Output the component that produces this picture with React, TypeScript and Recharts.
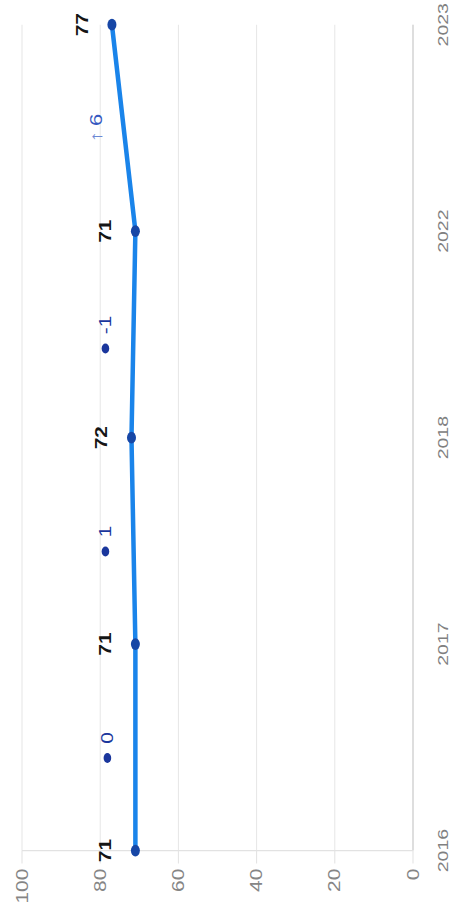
import React from "react";
import {
  ComposedChart,
  Line,
  XAxis,
  YAxis,
  CartesianGrid,
  LabelList,
} from "recharts";

// values
const years = ["2016", "2017", "2018", "2022", "2023"];
const scores = [71, 71, 72, 71, 77];
const changes = [0, 1, -1, 6];
const flagged = [false, false, false, true];
const yTicks = [0, 20, 40, 60, 80, 100];

type Row = {
  pos: number;
  score?: number;
  mid?: number;
  change?: number;
  flagged?: boolean;
};

const rows: Row[] = [];
years.forEach((yr, i) => {
  rows.push({ pos: i * 2, score: scores[i] });
  if (i < changes.length) {
    rows.push({
      pos: i * 2 + 1,
      mid: (scores[i] + scores[i + 1]) / 2,
      change: changes[i],
      flagged: flagged[i],
    });
  }
});

const xTicks = years.map((_, i) => i * 2);

const FONT = '"Liberation Sans", Arial, sans-serif';
const CHART_W = 702;
const CHART_H = 455;
const STRETCH = 913 / CHART_W;

const textWidth = (s: string, fs: number) =>
  s.split("").reduce((w, c) => w + (c === "-" ? 0.333 : 0.556) * fs, 0);

const renderScore = (props: any) => {
  const { x, y, value } = props;
  if (value == null || x == null || y == null) return null;
  return (
    <text
      x={x}
      y={y - 30}
      textAnchor="middle"
      dominantBaseline="central"
      fontFamily={FONT}
      fontSize={16}
      fontWeight="bold"
      fill="#151515"
    >
      {value}
    </text>
  );
};

const renderChange = (props: any) => {
  const { x, y, value, index } = props;
  if (value == null || x == null || y == null) return null;
  const row = rows[index];
  const cy = y - 28;
  if (row && row.flagged) {
    return (
      <text
        x={x}
        y={cy}
        textAnchor="middle"
        dominantBaseline="central"
        fontFamily={FONT}
        fontSize={17}
        fill="#3558c0"
      >
        <tspan fill="#6c88d4">↑</tspan>
        <tspan dx={4}>{Math.abs(value)}</tspan>
      </text>
    );
  }
  const label = String(value);
  const fs = 16;
  const total = 3.5 + 11 + textWidth(label, fs);
  const left = x - total / 2;
  return (
    <g>
      <circle cx={left + 3.5} cy={cy} r={3.8} fill="#1a369c" />
      <text
        x={left + 14.5}
        y={cy}
        textAnchor="start"
        dominantBaseline="central"
        fontFamily={FONT}
        fontSize={fs}
        fill="#1a369c"
      >
        {label}
      </text>
    </g>
  );
};

export default function App() {
  return (
    <div
      style={{
        position: "absolute",
        top: 0,
        left: 0,
        width: 455,
        height: 913,
        overflow: "hidden",
        background: "#fff",
      }}
    >
      <div
        style={{
          width: CHART_W,
          height: CHART_H,
          transformOrigin: "0 0",
          transform: `translateY(913px) rotate(-90deg) scaleX(${STRETCH})`,
        }}
      >
        <ComposedChart
          width={CHART_W}
          height={CHART_H}
          data={rows}
          margin={{ top: 22, right: 19, left: 0, bottom: 0 }}
        >
          <CartesianGrid vertical={false} stroke="#e6e6e6" />
          <XAxis
            type="number"
            dataKey="pos"
            domain={[0, 8]}
            ticks={xTicks}
            interval={0}
            tickFormatter={(v: number) => years[v / 2]}
            axisLine={{ stroke: "#c9c9c9" }}
            tickLine={false}
            tickMargin={18}
            height={42}
            tick={{ fontFamily: FONT, fontSize: 15, fill: "#808080" }}
          />
          <YAxis
            domain={[0, 100]}
            ticks={yTicks}
            interval={0}
            width={48}
            axisLine={{ stroke: "#e2e2e2" }}
            tickLine={{ stroke: "#e2e2e2" }}
            tickSize={10}
            tickMargin={4}
            tick={{ fontFamily: FONT, fontSize: 16, fill: "#858585" }}
          />
          <Line
            dataKey="score"
            type="linear"
            stroke="#1a84ea"
            strokeWidth={4.5}
            connectNulls
            dot={{ r: 4.5, fill: "#1747a6", stroke: "#1747a6", strokeWidth: 0 }}
            activeDot={false}
            isAnimationActive={false}
          >
            <LabelList dataKey="score" content={renderScore} />
          </Line>
          <Line
            dataKey="mid"
            type="linear"
            stroke="none"
            dot={false}
            activeDot={false}
            legendType="none"
            isAnimationActive={false}
          >
            <LabelList dataKey="change" content={renderChange} />
          </Line>
        </ComposedChart>
      </div>
    </div>
  );
}
